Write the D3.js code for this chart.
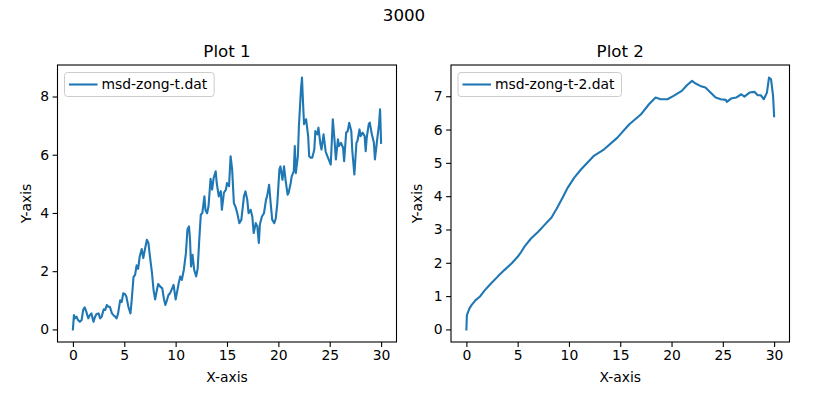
<!DOCTYPE html>
<html lang="en">
<head>
<meta charset="UTF-8">
<title>3000</title>
<script src="https://d3js.org/d3.v7.min.js"></script>
<style>
  body { margin: 0; background: #fff; }
  text { font-family: "DejaVu Sans", sans-serif; fill: #000; }
</style>
</head>
<body>
<script>
// Plot 1: msd-zong-t.dat
var t1 = [0, 0.1, 0.2, 0.35, 0.5, 0.68, 0.85, 1.0, 1.15, 1.3, 1.5, 1.65, 1.8, 2.0, 2.15, 2.3, 2.5, 2.65, 2.8,
  3.0, 3.15, 3.3, 3.45, 3.6, 3.8, 3.95, 4.1, 4.25, 4.4, 4.6, 4.75, 4.9, 5.05, 5.2, 5.4, 5.6, 5.7, 5.9,
  6.05, 6.2, 6.35, 6.5, 6.7, 6.85, 7.0, 7.2, 7.35, 7.5, 7.7, 7.85, 8.0, 8.15, 8.3, 8.5, 8.7, 8.85, 9.0,
  9.15, 9.3, 9.45, 9.6, 9.8, 10.0, 10.15, 10.3, 10.45, 10.6, 10.8, 11.0, 11.15, 11.3, 11.4, 11.5, 11.65,
  11.8, 12.0, 12.15, 12.3, 12.45, 12.6, 12.8, 12.9, 13.06, 13.2, 13.4, 13.55, 13.7, 13.9, 14.0, 14.2,
  14.4, 14.5, 14.7, 14.9, 15.0, 15.2, 15.35, 15.5, 15.67, 15.84, 16.0, 16.2, 16.4, 16.65, 16.8, 16.97,
  17.1, 17.3, 17.46, 17.6, 17.8, 17.95, 18.1, 18.2, 18.4, 18.6, 18.8, 18.9, 19.1, 19.25, 19.4, 19.6,
  19.75, 19.9, 20.1, 20.2, 20.4, 20.55, 20.7, 20.9, 21.0, 21.2, 21.3, 21.5, 21.6, 21.7, 21.9, 22.0,
  22.2, 22.3, 22.4, 22.5, 22.7, 22.9, 23.0, 23.15, 23.3, 23.5, 23.6, 23.8, 23.9, 24.1, 24.2, 24.4,
  24.6, 24.7, 24.9, 25.1, 25.3, 25.45, 25.6, 25.8, 25.9, 26.1, 26.3, 26.4, 26.6, 26.75, 26.9, 27.1,
  27.2, 27.4, 27.6, 27.7, 27.9, 28.0, 28.2, 28.4, 28.5, 28.6, 28.8, 28.9, 29.1, 29.3, 29.4, 29.6,
  29.8, 29.9, 30.0];
var msd1 = [0, 0.49, 0.38, 0.44, 0.32, 0.26, 0.32, 0.67, 0.76, 0.61, 0.38, 0.49, 0.55, 0.26, 0.43, 0.53, 0.55, 0.38, 0.44,
  0.69, 0.67, 0.84, 0.78, 0.78, 0.55, 0.49, 0.44, 0.38, 0.55, 1.0, 0.94, 1.24, 1.22, 1.13, 0.78, 0.55, 0.9, 1.8,
  1.87, 2.2, 2.08, 2.5, 2.76, 2.45, 2.73, 3.08, 2.97, 2.5, 1.93, 1.36, 1.03, 1.3, 1.56, 1.47, 1.41, 1.07, 0.84,
  1.0, 1.18, 1.24, 1.36, 1.53, 1.03, 1.3, 1.59, 1.82, 1.7, 2.05, 2.62, 3.43, 3.54, 3.08, 2.16, 2.56,
  2.05, 1.82, 2.1, 3.08, 3.94, 4.0, 4.57, 4.11, 3.99, 4.23, 5.17, 4.8, 5.2, 5.43, 5.03, 4.57,
  4.75, 4.11, 4.7, 4.8, 5.03, 4.92, 5.95, 5.5, 4.34, 4.2, 3.99, 3.65, 3.77, 4.57, 4.74, 4.46,
  3.99, 4.11, 3.88, 3.31, 3.65, 3.54, 2.97, 3.6, 3.88, 3.99, 4.46, 4.57, 4.97, 4.34, 3.77, 3.65,
  3.82, 4.34, 5.49, 5.6, 5.14, 5.6, 5.14, 4.63, 4.69, 5.03, 5.26, 5.43, 6.3, 5.37, 5.95, 6.98,
  8.25, 8.65, 7.79, 7.05, 7.22, 6.64, 5.95, 5.9, 5.9, 6.18, 6.81, 6.7, 6.93, 6.35, 6.18, 6.7,
  6.12, 6.01, 5.84, 5.66, 7.22, 6.58, 5.84, 6.53, 6.3, 6.41, 6.24, 5.78, 6.76, 6.81, 7.1, 6.81,
  6.12, 5.32, 6.41, 6.47, 6.87, 6.64, 6.76, 6.64, 6.12, 6.58, 7.05, 7.1, 6.7, 6.41, 5.84, 6.47,
  7.05, 7.56, 6.41];

// Plot 2: msd-zong-t-2.dat
var t2 = [0, 0.05, 0.3, 0.5, 0.9, 1.3, 1.8, 2.4, 3.1, 3.7, 4.4, 5.0, 5.35, 5.7, 6.3, 7.0, 7.6, 8.3, 8.8,
  9.4, 9.87, 10.5, 11.17, 12.46, 13.4, 14.7, 15.86, 17.0, 17.8, 18.45, 18.93, 19.6, 20.2, 21.0, 21.5, 22.0,
  22.3, 22.8, 23.3, 23.8, 24.3, 24.8, 25.3, 25.4, 25.8, 26.3, 26.8, 27.1, 27.6, 28.1, 28.4, 28.7,
  29.0, 29.3, 29.5, 29.7, 29.9, 30.0];
var msd2 = [0, 0.43, 0.63, 0.73, 0.88, 0.98, 1.18, 1.38, 1.6, 1.78, 1.98, 2.18, 2.33, 2.5, 2.73, 2.93, 3.13, 3.36, 3.62,
  3.97, 4.25, 4.55, 4.8, 5.22, 5.4, 5.75, 6.15, 6.45, 6.76, 6.96, 6.91, 6.91, 7.01, 7.16, 7.33, 7.46,
  7.39, 7.31, 7.26, 7.11, 6.96, 6.91, 6.89, 6.83, 6.93, 6.96, 7.06, 6.99, 7.11, 7.13, 7.03, 7.03,
  6.91, 7.11, 7.56, 7.51, 7.0, 6.4];

var xTicks = [0, 5, 10, 15, 20, 25, 30];
var yTicks1 = [0, 2, 4, 6, 8];
var yTicks2 = [0, 1, 2, 3, 4, 5, 6, 7];

var W = 837, H = 398;
var blue = "#1f77b4";

var svg = d3.select("body").append("svg")
    .attr("width", W)
    .attr("height", H);

svg.append("text")
    .attr("x", 404).attr("y", 21)
    .attr("text-anchor", "middle")
    .style("font-size", "16.7px")
    .text("3000");

function pad(ext) {
  var r = ext[1] - ext[0];
  return [ext[0] - 0.05 * r, ext[1] + 0.05 * r];
}

function drawPanel(left, right, xs, ys, yTicks, title, legendLabel, ylabelX) {
  var top = 65, bottom = 342;
  var x = d3.scaleLinear().domain(pad(d3.extent(xs))).range([left, right]);
  var y = d3.scaleLinear().domain(pad(d3.extent(ys))).range([bottom, top]);

  var pts = xs.map(function(d, i) { return [d, ys[i]]; });
  var line = d3.line()
    .x(function(d) { return x(d[0]); })
    .y(function(d) { return y(d[1]); });

  svg.append("path")
      .attr("d", line(pts))
      .attr("fill", "none")
      .attr("stroke", blue)
      .attr("stroke-width", 2.1)
      .attr("stroke-linejoin", "round")
      .attr("stroke-linecap", "square");

  // Axes
  var xAxis = svg.append("g")
      .attr("transform", "translate(0," + bottom + ")")
      .call(d3.axisBottom(x).tickValues(xTicks).tickSize(4.9).tickPadding(3.5));
  var yAxis = svg.append("g")
      .attr("transform", "translate(" + left + ",0)")
      .call(d3.axisLeft(y).tickValues(yTicks).tickSize(4.9).tickPadding(3.5));
  [xAxis, yAxis].forEach(function(g) {
    g.select(".domain").remove();
    g.selectAll("line").attr("stroke", "#000").attr("stroke-width", 1.1);
    g.selectAll("text").style("font-size", "13.9px").style("font-family", "DejaVu Sans").attr("fill", "#000");
  });

  svg.append("rect")
      .attr("x", left).attr("y", top)
      .attr("width", right - left).attr("height", bottom - top)
      .attr("fill", "none").attr("stroke", "#000").attr("stroke-width", 1.1);

  svg.append("text")
      .attr("x", (left + right) / 2).attr("y", 57)
      .attr("text-anchor", "middle")
      .style("font-size", "16.7px")
      .text(title);

  svg.append("text")
      .attr("x", (left + right) / 2).attr("y", 382)
      .attr("text-anchor", "middle")
      .style("font-size", "13.9px")
      .text("X-axis");

  svg.append("text")
      .attr("transform", "translate(" + ylabelX + "," + (top + bottom) / 2 + ") rotate(-90)")
      .attr("text-anchor", "middle")
      .style("font-size", "13.9px")
      .text("Y-axis");

  // Legend
  var lg = svg.append("g");
  var txt = lg.append("text")
      .attr("x", left + 44).attr("y", 89)
      .style("font-size", "13.9px")
      .text(legendLabel);
  var tw = txt.node().getComputedTextLength();
  lg.insert("rect", "text")
      .attr("x", left + 7).attr("y", 72.5)
      .attr("width", 44 + tw).attr("height", 24)
      .attr("rx", 3).attr("ry", 3)
      .attr("fill", "rgba(255,255,255,0.8)")
      .attr("stroke", "#cccccc").attr("stroke-width", 1);
  lg.append("line")
      .attr("x1", left + 11.5).attr("x2", left + 40)
      .attr("y1", 84.5).attr("y2", 84.5)
      .attr("stroke", blue).attr("stroke-width", 2.1);
}

drawPanel(57.5, 396.5, t1, msd1, yTicks1, "Plot 1", "msd-zong-t.dat", 31);
drawPanel(451, 789.5, t2, msd2, yTicks2, "Plot 2", "msd-zong-t-2.dat", 422);
</script>
</body>
</html>
